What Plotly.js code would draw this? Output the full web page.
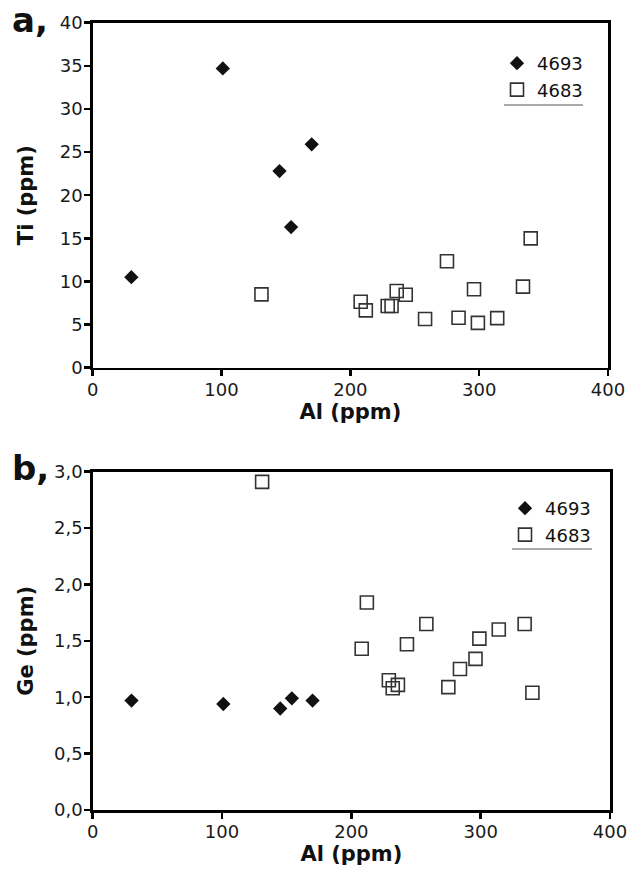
<!DOCTYPE html>
<html>
<head>
<meta charset="utf-8">
<script src="https://cdn.plot.ly/plotly-3.0.1.min.js"></script>
<style>
html,body{margin:0;padding:0;background:#fff;}
#chart{width:632px;height:870px;}
</style>
</head>
<body>
<div id="chart"></div>
<script>
// Sample names
const seriesNames = ["4693", "4683"];

// Sample 4693 (filled diamonds)
const al4693 = [30, 101, 145, 154, 170];
const ti4693 = [10.5, 34.7, 22.8, 16.3, 25.9];
const ge4693 = [0.97, 0.94, 0.90, 0.99, 0.97];

// Sample 4683 (open squares)
const al4683 = [131, 208, 212, 229, 232, 236, 243, 258, 275, 284, 296, 299, 314, 334, 340];
const ti4683 = [8.5, 7.65, 6.65, 7.15, 7.15, 8.9, 8.45, 5.65, 12.35, 5.8, 9.1, 5.2, 5.75, 9.4, 15.0];
const ge4683 = [2.91, 1.43, 1.84, 1.15, 1.08, 1.11, 1.47, 1.65, 1.09, 1.25, 1.34, 1.52, 1.60, 1.65, 1.04];

// Axis tick values
const alTicks = [0, 100, 200, 300, 400];
const tiTicks = [0, 5, 10, 15, 20, 25, 30, 35, 40];
const geTicks = [0, 0.5, 1.0, 1.5, 2.0, 2.5, 3.0];

const FONT = "DejaVu Sans, Liberation Sans, Arial, sans-serif";
const W = 632, H = 870;
const px = v => v / W;
const py = v => 1 - v / H;

const diamond = {symbol: "diamond", size: 11, color: "#111"};
const square = {symbol: "square-open", size: 13, color: "#333", line: {color: "#333", width: 1.6}};

const traces = [
  {x: al4693, y: ti4693, name: seriesNames[0], type: "scatter", mode: "markers",
   marker: diamond, xaxis: "x", yaxis: "y", legend: "legend"},
  {x: al4683, y: ti4683, name: seriesNames[1], type: "scatter", mode: "markers",
   marker: square, xaxis: "x", yaxis: "y", legend: "legend"},
  {x: al4693, y: ge4693, name: seriesNames[0], type: "scatter", mode: "markers",
   marker: diamond, xaxis: "x2", yaxis: "y2", legend: "legend2"},
  {x: al4683, y: ge4683, name: seriesNames[1], type: "scatter", mode: "markers",
   marker: square, xaxis: "x2", yaxis: "y2", legend: "legend2"}
];

const axisCommon = {
  showgrid: false, zeroline: false, showline: true, linecolor: "#000", linewidth: 2.5,
  mirror: true, ticks: "outside", ticklen: 6, tickwidth: 2.5, tickcolor: "#000",
  ticklabelstandoff: -2,
  tickfont: {family: FONT, size: 18, color: "#1a1a1a"}
};
const titleFont = {family: FONT, size: 21, color: "#111", weight: "bold"};

const legendCommon = {
  font: {family: FONT, size: 18, color: "#111"},
  bgcolor: "rgba(0,0,0,0)", borderwidth: 0,
  itemwidth: 30, tracegroupgap: 0, xanchor: "right", yanchor: "top",
  itemclick: false, itemdoubleclick: false
};

const layout = {
  width: W, height: H,
  margin: {l: 0, r: 0, t: 0, b: 0},
  paper_bgcolor: "#fff", plot_bgcolor: "#fff",
  separators: ", ",
  font: {family: FONT, color: "#111"},
  xaxis: Object.assign({}, axisCommon, {
    domain: [px(92.7), px(608)], range: [0, 400], tickvals: alTicks, anchor: "y",
    title: {text: "Al (ppm)", font: titleFont, standoff: 0}
  }),
  yaxis: Object.assign({}, axisCommon, {
    domain: [py(367.7), py(22.7)], range: [0, 40], tickvals: tiTicks, anchor: "x",
    title: {text: "Ti (ppm)", font: titleFont, standoff: 21}
  }),
  xaxis2: Object.assign({}, axisCommon, {
    domain: [px(92.7), px(610)], range: [0, 400], tickvals: alTicks, anchor: "y2",
    title: {text: "Al (ppm)", font: titleFont, standoff: 0}
  }),
  yaxis2: Object.assign({}, axisCommon, {
    domain: [py(810), py(471.7)], range: [0, 3], tickvals: geTicks, tickformat: ".1f", anchor: "x2",
    title: {text: "Ge (ppm)", font: titleFont, standoff: 15}
  }),
  legend: Object.assign({}, legendCommon, {x: px(588), y: py(45)}),
  legend2: Object.assign({}, legendCommon, {x: px(596), y: py(490)}),
  showlegend: true,
  shapes: [
    {type: "line", xref: "paper", yref: "paper", x0: px(504), x1: px(583), y0: py(105), y1: py(105),
     line: {color: "#555", width: 1}},
    {type: "line", xref: "paper", yref: "paper", x0: px(512), x1: px(592), y0: py(549), y1: py(549),
     line: {color: "#555", width: 1}}
  ],
  annotations: [
    {text: "<b>a,</b>", xref: "paper", yref: "paper", x: px(10), y: py(20), xanchor: "left", yanchor: "middle",
     showarrow: false, font: {family: FONT, size: 34, color: "#111"}},
    {text: "<b>b,</b>", xref: "paper", yref: "paper", x: px(10), y: py(468), xanchor: "left", yanchor: "middle",
     showarrow: false, font: {family: FONT, size: 34, color: "#111"}}
  ]
};

Plotly.newPlot("chart", traces, layout, {staticPlot: true, displayModeBar: false});
</script>
</body>
</html>
